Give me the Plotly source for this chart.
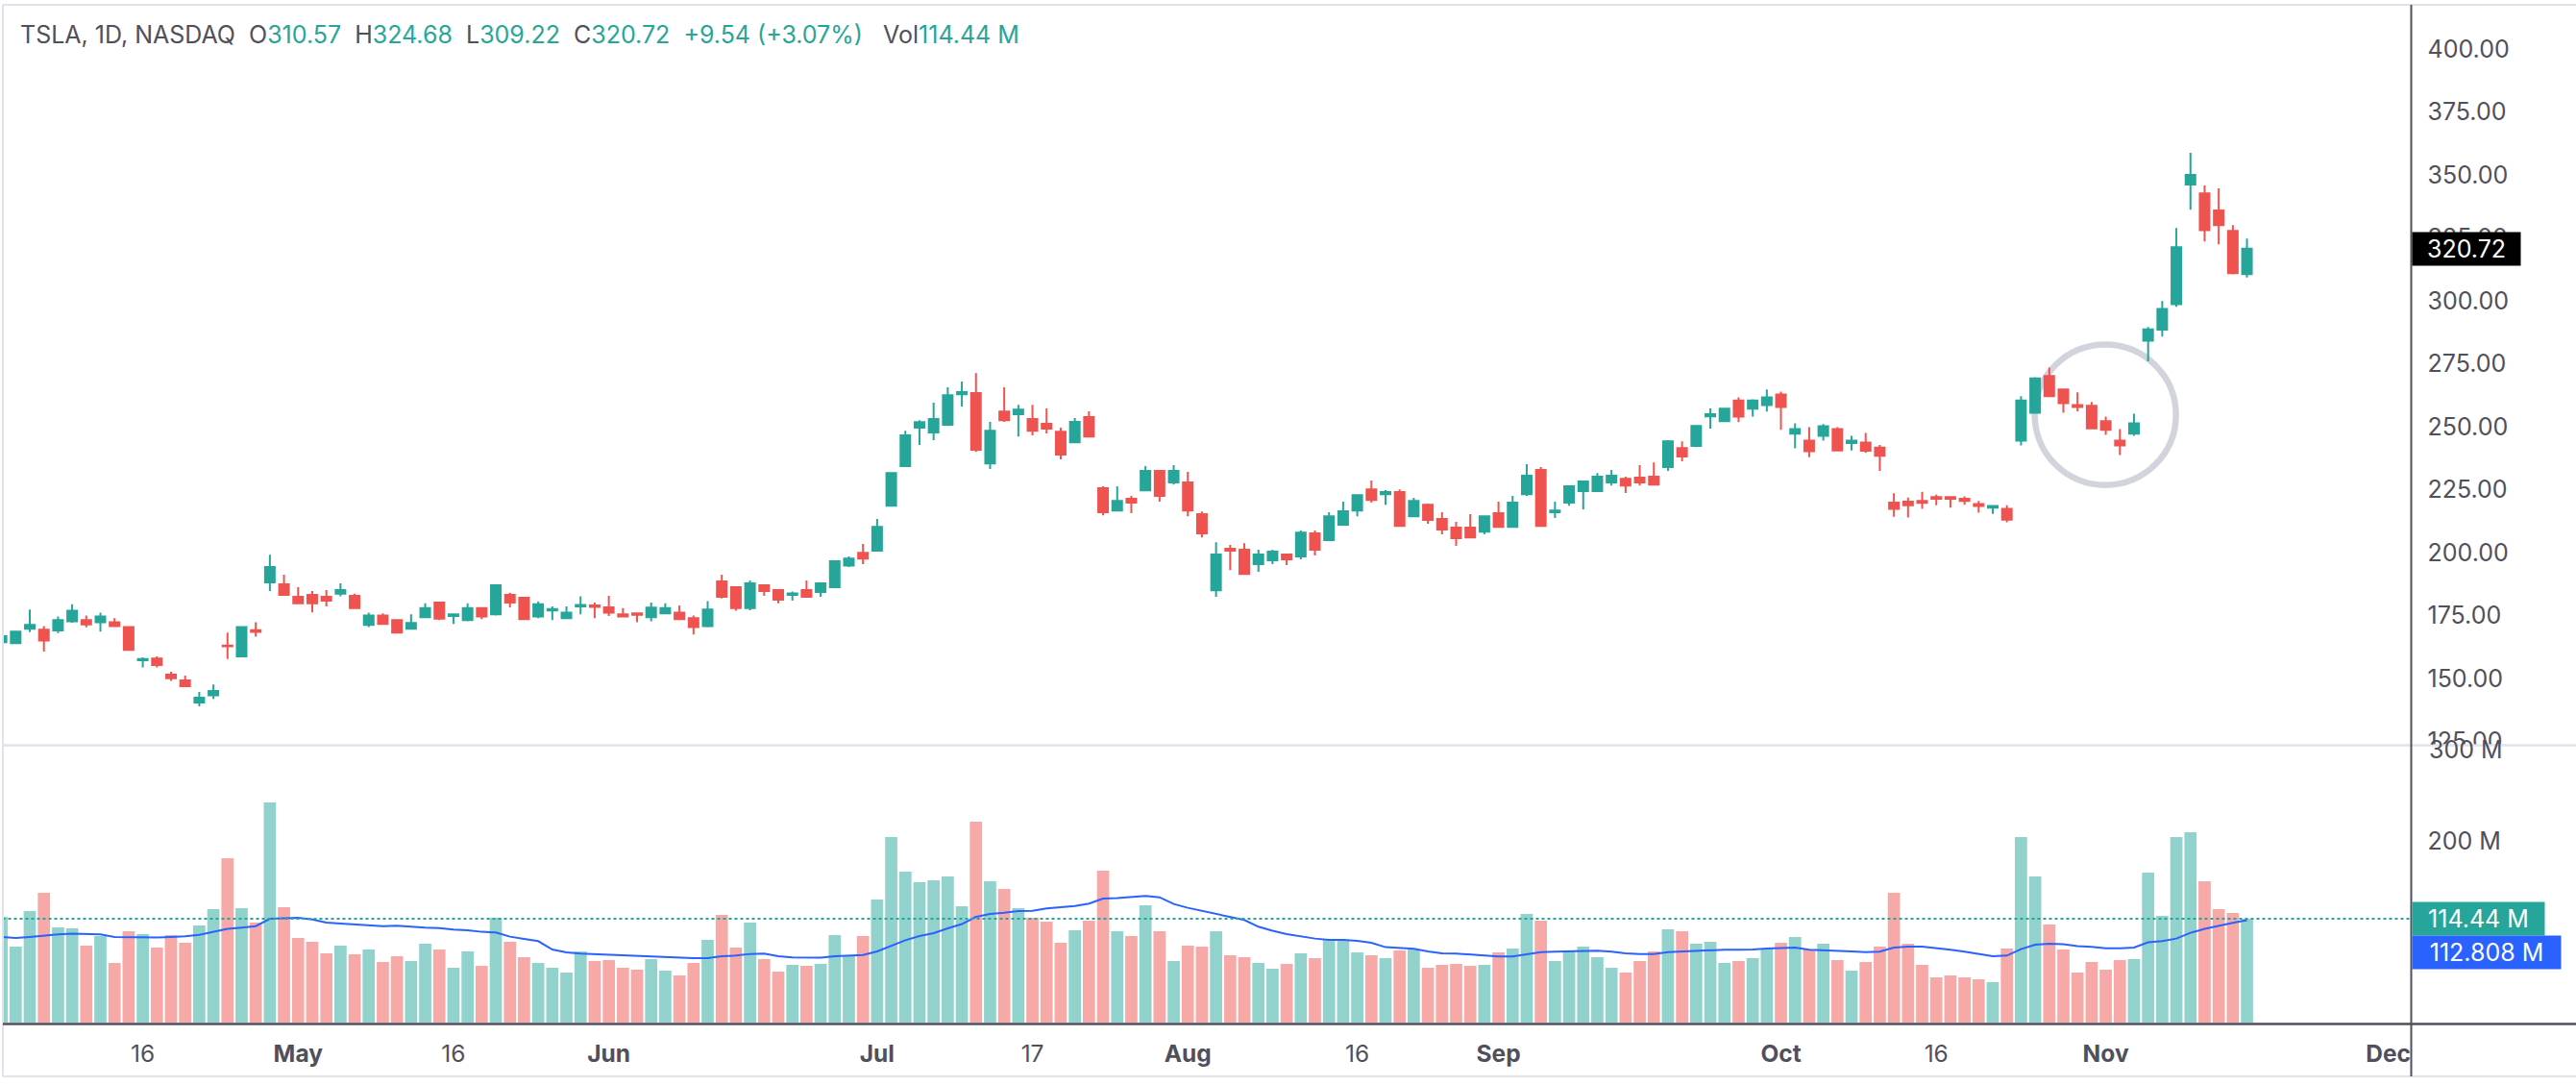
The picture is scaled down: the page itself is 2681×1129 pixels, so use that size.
import plotly.graph_objects as go

W, H = 2681, 1129

open_px = [164.4,164.0,169.7,169.3,169.0,172.7,173.1,172.3,172.3,170.4,157.2,157.9,151.5,149.2,140.4,143.3,
           163.0,158.7,169.1,188.1,187.4,182.4,183.2,182.4,183.6,182.8,171.2,175.0,173.1,169.7,174.3,180.1,
           174.8,173.1,177.9,175.4,183.2,182.0,174.6,177.0,173.9,178.6,179.0,178.2,175.4,175.8,174.3,175.8,
           176.1,173.9,170.8,188.5,186.2,177.9,187.0,185.1,183.2,185.1,184.3,186.2,194.8,199.9,200.7,218.6,
           234.3,249.6,247.7,250.7,262.9,263.3,235.4,256.0,254.9,253.0,251.1,248.0,243.8,253.8,225.5,216.7,
           221.3,224.7,232.4,227.8,227.8,215.2,185.0,201.5,201.1,195.4,196.9,199.2,198.4,207.6,204.9,211.0,
           216.7,225.1,223.2,224.0,214.4,219.0,213.3,209.9,209.9,208.3,215.6,210.2,223.2,232.8,216.0,219.8,
           224.4,224.4,227.8,229.3,229.7,230.1,233.9,241.5,242.3,254.1,252.2,260.4,257.1,258.6,262.8,247.2,
           244.4,246.4,249.0,243.5,243.7,241.7,219.8,220.2,220.5,222.0,222.0,221.3,219.2,217.8,217.3,244.4,
           255.5,270.1,264.8,258.6,258.3,252.2,244.4,247.2,284.2,288.5,298.7,346.2,342.7,335.9,327.8,310.57]
high_px = [167.2,168.7,177.3,170.8,174.6,179.4,175.0,176.1,173.9,170.8,158.3,158.7,152.6,151.1,144.6,147.6,
           168.2,170.8,172.3,199.1,191.2,186.2,184.7,185.1,187.7,183.6,176.1,175.8,173.1,175.4,179.8,180.1,
           175.8,179.8,177.9,187.0,184.0,182.0,180.5,178.6,178.6,182.6,180.1,182.8,177.9,176.1,180.1,179.8,
           179.0,175.0,180.7,191.2,186.2,188.9,187.4,185.5,184.5,188.9,188.1,196.5,198.4,203.4,213.3,231.6,
           248.4,252.6,259.5,265.6,267.9,271.3,251.9,265.6,258.7,258.7,257.2,249.6,253.4,256.1,226.3,226.3,
           222.5,234.3,232.8,234.7,232.0,216.3,204.1,203.0,203.7,201.1,201.1,199.5,208.7,208.7,216.0,220.2,
           223.2,228.6,224.8,225.1,221.7,219.4,216.0,212.2,215.2,214.8,220.2,222.5,235.1,233.9,220.2,226.7,
           228.6,231.6,232.8,230.1,234.7,235.8,244.6,244.2,250.3,257.2,257.1,261.6,260.9,264.8,263.9,251.3,
           249.8,251.0,249.8,246.4,247.5,242.7,223.5,221.8,224.1,223.0,222.3,222.3,220.5,218.5,218.8,262.1,
           269.6,273.5,265.1,263.6,259.8,254.0,249.0,255.1,289.6,299.9,328.9,358.8,345.8,344.7,330.1,324.68]
low_px = [164.0,163.6,168.4,160.6,168.0,172.1,170.3,168.6,170.4,161.3,154.3,154.3,149.0,146.5,138.9,141.8,
          157.7,158.7,166.6,184.7,183.2,179.4,176.2,178.6,182.6,177.9,170.4,171.6,167.8,169.3,174.3,173.1,
          171.6,172.7,173.5,175.0,178.2,173.5,173.9,173.1,173.9,175.4,173.9,174.8,174.3,172.3,172.7,175.8,
          173.1,167.4,170.3,181.7,176.9,177.1,182.8,179.8,180.9,182.4,182.4,186.2,194.2,195.4,200.7,218.3,
          234.3,242.7,244.6,250.3,258.0,240.0,233.2,251.9,246.1,246.5,247.3,237.0,243.8,245.8,214.8,216.3,
          215.6,224.7,220.2,227.0,214.4,206.0,182.4,193.0,191.5,192.3,195.4,195.0,197.3,198.8,204.9,211.0,
          214.4,219.8,219.0,210.6,214.4,211.4,207.2,202.6,206.0,207.2,209.9,210.2,222.5,210.6,213.7,218.6,
          217.1,224.0,226.6,223.6,226.6,227.0,232.4,236.2,241.9,249.2,252.2,251.8,254.0,256.0,248.7,241.4,
          237.9,244.4,240.5,240.5,239.6,232.4,214.2,213.9,217.3,218.8,217.8,219.0,215.8,215.3,212.0,242.5,
          255.5,262.1,255.5,256.1,249.3,246.7,238.7,246.4,275.9,285.8,297.6,336.2,323.6,322.4,310.5,309.22]
close_px = [166.7,168.6,171.2,165.0,173.1,176.9,171.4,174.6,170.8,161.3,157.7,155.3,150.0,146.9,142.3,145.0,
            162.7,170.4,168.5,194.2,183.2,179.8,179.8,180.9,185.1,177.9,175.0,171.6,168.2,172.0,177.9,173.7,
            175.4,177.9,174.6,187.0,180.1,173.5,179.4,177.5,176.1,179.2,178.4,176.1,174.6,175.2,178.1,177.9,
            173.5,170.4,177.3,182.4,177.9,187.7,184.7,181.3,183.7,182.4,187.7,196.5,197.6,197.6,210.2,231.6,
            246.5,251.8,253.0,262.5,263.7,240.8,248.4,252.6,256.8,248.4,249.2,238.9,251.9,246.1,216.0,220.5,
            219.8,232.4,222.5,232.4,216.7,207.6,199.2,200.7,191.5,199.2,200.3,197.3,207.9,201.1,214.4,216.4,
            222.8,220.9,224.0,210.6,220.5,212.9,209.1,205.7,206.0,214.4,210.2,219.8,230.5,210.6,216.7,226.3,
            228.2,230.1,230.5,226.6,227.8,227.0,244.2,238.1,250.3,254.9,257.1,254.0,260.4,261.6,257.8,249.0,
            240.2,250.2,240.5,244.4,240.4,238.4,217.3,218.8,219.7,221.3,221.3,220.5,218.5,218.5,213.0,260.4,
            269.2,262.1,259.3,257.8,249.3,248.7,242.5,251.3,288.6,296.8,321.3,350.0,328.1,330.1,311.0,320.72]

# volume in millions
volume = [116.5,83.8,122.9,143.0,104.9,103.9,84.9,95.4,65.8,100.7,97.5,82.7,96.5,88.0,107.0,125.0,
          181.0,126.1,110.2,242.3,127.1,93.3,89.1,76.4,84.9,75.4,80.6,66.9,73.2,68.0,87.0,80.6,
          60.6,78.5,62.7,115.5,89.1,72.2,65.8,60.6,55.3,78.5,68.0,69.0,60.6,58.5,70.1,57.4,
          52.1,65.8,91.2,118.7,82.7,110.2,70.1,56.3,63.7,62.7,64.8,96.5,73.2,95.4,135.6,204.2,
          166.2,154.6,156.7,160.9,128.2,221.1,155.6,147.2,126.1,115.5,111.3,88.0,101.8,112.3,167.3,100.7,
          95.4,129.2,100.7,68.0,84.9,83.8,100.7,74.3,72.2,65.8,59.5,64.8,76.4,71.1,91.2,90.1,
          77.5,74.3,71.1,79.6,80.6,60.6,63.7,64.8,62.7,63.7,77.5,81.7,119.7,112.3,68.0,78.5,
          83.8,72.2,60.6,55.3,68.0,78.5,102.8,100.7,87.0,89.1,65.8,68.0,71.1,81.7,88.0,94.4,
          80.6,87.0,69.0,57.4,66.9,83.8,143.0,87.0,63.7,50.0,52.1,50.0,47.9,44.7,81.7,204.2,
          160.9,108.1,80.6,55.3,66.9,58.5,69.0,70.1,165.1,117.6,204.2,209.5,155.6,125.0,120.8,114.44]
vol_ma = [94.4,93.3,94.4,96.1,97.2,97.9,97.9,97.2,94.4,94.0,93.7,93.7,94.4,95.1,96.8,99.6,
          103.2,104.6,106.3,114.4,115.1,115.5,113.7,110.2,109.2,108.1,107.7,106.3,106.7,105.3,104.6,104.2,
          102.5,101.8,100.0,99.3,94.7,92.3,89.8,80.6,77.5,76.1,75.4,75.0,73.9,73.2,72.9,72.5,
          71.5,71.1,71.1,73.2,73.9,75.7,76.1,73.2,71.8,71.5,71.5,73.2,73.6,74.6,78.5,84.9,
          90.8,95.4,98.6,103.9,108.5,116.5,119.7,121.1,122.9,123.2,125.7,127.1,128.5,131.0,136.6,137.0,
          138.0,139.4,138.0,130.6,126.4,122.9,119.7,116.5,113.0,105.6,101.1,97.5,95.1,92.6,91.2,91.2,
          90.1,88.0,83.1,82.0,81.3,78.5,76.4,76.1,75.0,74.3,72.9,72.9,75.4,77.8,78.2,78.5,
          79.2,79.2,78.2,76.4,75.7,75.7,77.8,78.5,78.9,79.9,80.3,80.3,80.6,81.7,82.4,82.7,
          80.3,79.9,79.6,78.5,77.8,78.2,82.7,83.8,83.8,82.4,80.3,78.2,76.1,73.2,73.9,81.0,
          85.9,87.0,86.3,84.2,83.5,82.0,82.0,82.7,88.4,89.8,92.6,98.9,103.2,106.7,109.9,112.808]

bar_index = list(range(len(close_px)))

date_ticks = [10, 21, 32, 43, 62, 73, 84, 96, 106, 126, 137, 149, 169]
date_labels = ['16', '<b>May</b>', '16', '<b>Jun</b>', '<b>Jul</b>', '17', '<b>Aug</b>', '16', '<b>Sep</b>',
               '<b>Oct</b>', '16', '<b>Nov</b>', '<b>Dec</b>']
price_ticks = [125, 150, 175, 200, 225, 250, 275, 300, 325, 350, 375, 400]

UP = '#26a69a'
DOWN = '#ef5350'
TEXT = '#50505c'
FRAME = '#e0e3eb'
FONT = 'Inter'
AXIS_X = 2509.5


def px(x):
    return x / W


def py(y):
    return 1 - y / H


def sp(txt):
    return "<span style='color:%s'>%s</span>" % (UP, txt)


bar_colors = ['rgba(38,166,154,0.5)' if c >= o else 'rgba(239,83,80,0.5)' for o, c in zip(open_px, close_px)]

candles = go.Candlestick(x=bar_index, open=open_px, high=high_px, low=low_px, close=close_px,
                         increasing=dict(line=dict(color=UP, width=2), fillcolor=UP),
                         decreasing=dict(line=dict(color=DOWN, width=2), fillcolor=DOWN),
                         whiskerwidth=0, yaxis='y', xaxis='x', showlegend=False)
vol_bars = go.Bar(x=bar_index, y=volume, marker=dict(color=bar_colors, line=dict(width=0)),
                  yaxis='y2', xaxis='x', showlegend=False)
ma_line = go.Scatter(x=bar_index, y=vol_ma, mode='lines', line=dict(color='#2962ff', width=2),
                     yaxis='y2', xaxis='x', showlegend=False)

fig = go.Figure(data=[vol_bars, ma_line, candles])

fig.update_layout(
    width=W, height=H, margin=dict(l=0, r=0, t=0, b=0),
    paper_bgcolor='white', plot_bgcolor='white',
    font=dict(family=FONT, color=TEXT, size=23),
    bargap=0.135, boxgap=0.32, boxgroupgap=0, showlegend=False,
    xaxis=dict(domain=[px(2.5), px(AXIS_X)], range=[0.06, 170.63], anchor='y2', rangeslider=dict(visible=False),
               automargin=False, showgrid=False, zeroline=False, showline=False, tickmode='array',
               tickvals=date_ticks, ticktext=date_labels, ticks='', ticklabelstandoff=15,
               tickfont=dict(size=24.5, color=TEXT)),
    yaxis=dict(domain=[py(775), py(5)], range=[123.6, 417.6], side='right', anchor='x', automargin=False,
               showgrid=False, zeroline=False, showline=False, tickmode='array', tickvals=price_ticks,
               tickformat='.2f', ticks='', ticklabelstandoff=16, tickfont=dict(size=25, color=TEXT)),
    yaxis2=dict(domain=[py(1064.3), py(776)], range=[0, 304.5], side='right', anchor='x', automargin=False,
                showgrid=False, zeroline=False, showline=False, tickmode='array', tickvals=[200],
                ticktext=['200 M'], ticks='', ticklabelstandoff=16, tickfont=dict(size=25, color=TEXT)),
)

# circle round the pullback, under the candles
fig.add_shape(type='circle', xref='x', yref='y', x0=143.97, x1=153.97, y0=226.8, y1=282.6,
              line=dict(color='#d1d4dc', width=6.5), layer='below')
# last volume dotted line
fig.add_shape(type='line', xref='paper', yref='y2', x0=px(2.5), x1=px(AXIS_X), y0=volume[-1], y1=volume[-1],
              line=dict(color=UP, width=2, dash='dot'), layer='above')

# hide what the panes clip
fig.add_shape(type='rect', xref='paper', yref='paper', x0=px(AXIS_X + 2), x1=1, y0=py(784), y1=py(776),
              fillcolor='white', line=dict(width=0), layer='above')
fig.add_shape(type='rect', xref='paper', yref='paper', x0=px(AXIS_X + 1), x1=1, y0=py(1118), y1=py(1068),
              fillcolor='white', line=dict(width=0), layer='above')

# frame and pane lines
for x0, y0, x1, y1, col, wd in [(3, 5, 3, 1120, FRAME, 2), (3, 5, 2681, 5, FRAME, 2),
                                (3, 1120, 2681, 1120, FRAME, 2), (3, 775.5, 2681, 775.5, FRAME, 2.5),
                                (3, 1065.5, 2681, 1065.5, '#50505c', 2.5),
                                (AXIS_X, 5, AXIS_X, 1120, '#50505c', 2)]:
    fig.add_shape(type='line', xref='paper', yref='paper', x0=px(x0), x1=px(x1), y0=py(y0), y1=py(y1),
                  line=dict(color=col, width=wd), layer='above')

nb = '\u00a0'
header = ('TSLA, 1D, NASDAQ' + nb * 2 + 'O' + sp('310.57') + nb * 2 + 'H' + sp('324.68') + nb * 2 + 'L' + sp('309.22')
          + nb * 2 + 'C' + sp('320.72') + nb * 2 + sp('+9.54 (+3.07%)') + nb * 3 + 'Vol' + sp('114.44' + nb + 'M'))
fig.add_annotation(xref='paper', yref='paper', x=px(19), y=py(36), text=header, showarrow=False, xanchor='left',
                   yanchor='middle', font=dict(size=25, color=TEXT, family=FONT))

fig.add_annotation(xref='paper', yref='y2', x=px(AXIS_X + 16), y=300, text='300 M', showarrow=False, xanchor='left',
                   yanchor='middle', font=dict(size=25, color=TEXT, family=FONT))

tags = [('y', close_px[-1], '320.72', '#000000', 112, 34, 0),
        ('y2', volume[-1], '114.44 M', UP, 137, 34, 0),
        ('y2', vol_ma[-1], '112.808 M', '#2962ff', 154, 34, -34)]
for yref, val, txt, col, wd, ht, shift in tags:
    fig.add_annotation(xref='paper', yref=yref, x=px(AXIS_X), y=val, yshift=shift, text=txt, showarrow=False,
                       xanchor='left', yanchor='middle', width=wd, height=ht, borderpad=0, bgcolor=col,
                       align='center', font=dict(size=25, color='white', family=FONT))

fig.write_html("out.html", config=dict(displayModeBar=False),
               post_script="document.documentElement.style.overflow='hidden';document.body.style.margin='0';")
